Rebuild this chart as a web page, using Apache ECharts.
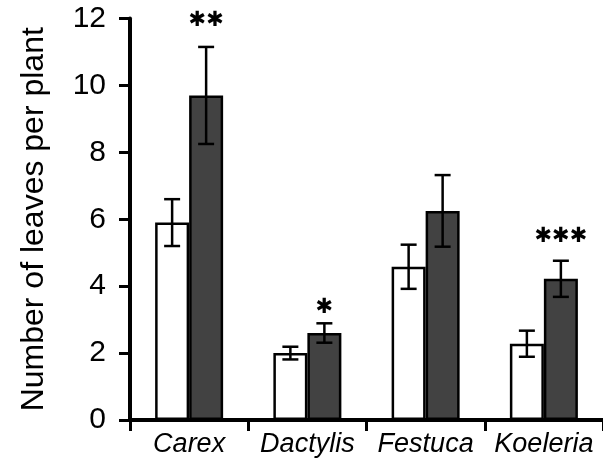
<!DOCTYPE html>
<html>
<head>
<meta charset="utf-8">
<script src="https://cdn.jsdelivr.net/npm/echarts@6/dist/echarts.min.js"></script>
<style>
html,body{margin:0;padding:0;background:#fff;}
#chart{width:603px;height:463px;}
</style>
</head>
<body>
<div id="chart"></div>
<script>
// ---- data ----
const categories = ['Carex', 'Dactylis', 'Festuca', 'Koeleria'];
const controlMean = [5.9, 2.0, 4.58, 2.28];
const controlErr  = [0.7, 0.19, 0.66, 0.39];
const treatMean   = [9.7, 2.6, 6.25, 4.22];
const treatErr    = [1.45, 0.29, 1.07, 0.54];
const sigText     = ['**', '*', '', '***'];
const sigY        = [11.95, 3.35, null, 5.47];
const yTicks      = [0, 2, 4, 6, 8, 10, 12];

const BAR_W = 34;
const FONT = '"Liberation Sans", Arial, Helvetica, sans-serif';

const chart = echarts.init(document.getElementById('chart'), null, {renderer: 'canvas'});

function errData(mean, err) {
  return mean.map((m, i) => [i, m - err[i], m + err[i]]);
}

function errRender(side) {
  return function (params, api) {
    const idx = api.value(0);
    const lo = api.coord([idx, api.value(1)]);
    const hi = api.coord([idx, api.value(2)]);
    const x = lo[0] + side * BAR_W / 2;
    const cap = 8;
    const style = {stroke: '#000', lineWidth: 2.5, fill: null};
    return {
      type: 'group',
      children: [
        {type: 'line', shape: {x1: x, y1: lo[1], x2: x, y2: hi[1]}, style: style},
        {type: 'line', shape: {x1: x - cap, y1: lo[1], x2: x + cap, y2: lo[1]}, style: style},
        {type: 'line', shape: {x1: x - cap, y1: hi[1], x2: x + cap, y2: hi[1]}, style: style}
      ]
    };
  };
}

const sigData = sigY.map((v, i) => [i, v, sigText[i]]).filter(d => d[1] != null);

const option = {
  backgroundColor: '#fff',
  animation: false,
  grid: {left: 130, right: -3, top: 18.5, bottom: 43, containLabel: false},
  xAxis: {
    type: 'category',
    data: categories,
    boundaryGap: true,
    axisLine: {show: true, lineStyle: {color: '#000', width: 4}},
    axisTick: {show: true, interval: 0, length: 11, lineStyle: {color: '#000', width: 3}},
    axisLabel: {
      color: '#000', fontSize: 27, fontStyle: 'italic', fontFamily: FONT, margin: 11, interval: 0
    },
    splitLine: {show: false}
  },
  yAxis: {
    type: 'value',
    min: 0, max: 12, interval: 2,
    name: 'Number of leaves per plant',
    nameLocation: 'middle',
    nameGap: 80,
    nameTextStyle: {color: '#000', fontSize: 32, fontFamily: FONT},
    axisLine: {show: true, lineStyle: {color: '#000', width: 4}},
    axisTick: {show: true, length: 11, lineStyle: {color: '#000', width: 3}},
    axisLabel: {color: '#000', fontSize: 30, fontFamily: FONT, margin: 24,
      formatter: v => yTicks.indexOf(v) >= 0 ? String(v) : ''},
    splitLine: {show: false}
  },
  series: [
    {
      type: 'bar', data: controlMean, barWidth: BAR_W, barGap: '0%',
      itemStyle: {color: '#fff', borderColor: '#000', borderWidth: 2.5},
      z: 2
    },
    {
      type: 'bar', data: treatMean, barWidth: BAR_W, barGap: '0%',
      itemStyle: {color: '#424242', borderColor: '#000', borderWidth: 2.5},
      z: 2
    },
    {
      type: 'custom', data: errData(controlMean, controlErr),
      renderItem: errRender(-1), z: 5, encode: {x: 0, y: [1, 2]}
    },
    {
      type: 'custom', data: errData(treatMean, treatErr),
      renderItem: errRender(1), z: 5, encode: {x: 0, y: [1, 2]}
    },
    {
      type: 'custom', data: sigData,
      encode: {x: 0, y: 1},
      renderItem: function (params, api) {
        const p = api.coord([api.value(0), api.value(1)]);
        const txt = sigData[params.dataIndex][2].replace(/\*/g, '\u2731');
        return {
          type: 'text',
          style: {
            x: p[0] + BAR_W / 2, y: p[1], text: txt,
            fill: '#000', font: '21px "DejaVu Sans"', align: 'center', verticalAlign: 'middle'
          }
        };
      },
      z: 6
    }
  ]
};
chart.setOption(option);
</script>
</body>
</html>
